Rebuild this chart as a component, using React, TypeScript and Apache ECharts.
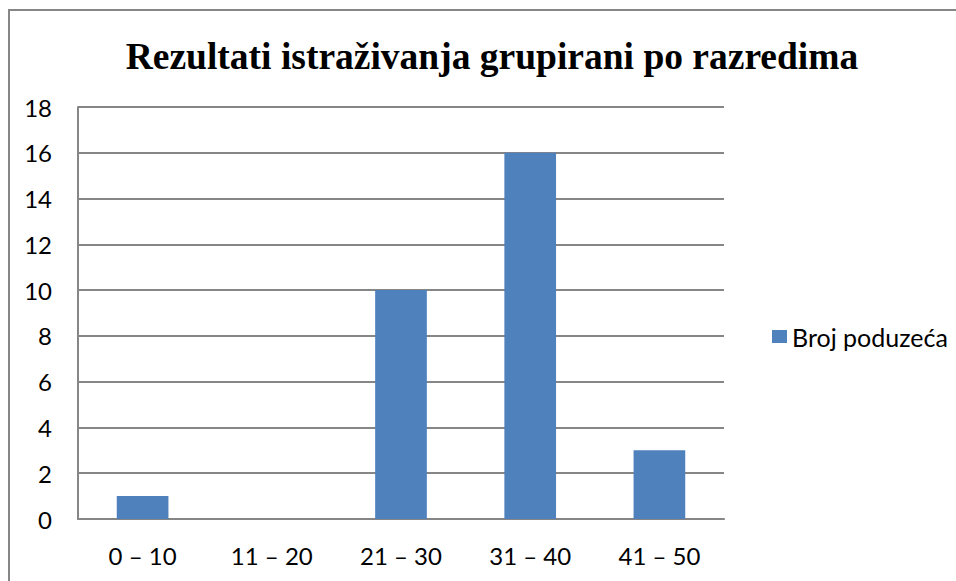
import React, { useEffect, useRef } from "react";
import * as echarts from "echarts";

const categories = ["0 – 10", "11 – 20", "21 – 30", "31 – 40", "41 – 50"];
const values = [1, 0, 10, 16, 3];
const seriesName = "Broj poduzeća";
const titleText = "Rezultati istraživanja grupirani po razredima";

export default function App() {
  const ref = useRef<HTMLDivElement>(null);
  useEffect(() => {
    if (!ref.current) return;
    const chart = echarts.init(ref.current, undefined, { renderer: "svg" });
    const labelFont = { fontFamily: "Lato", fontSize: 24, color: "#000000" };
    chart.setOption({
      animation: false,
      backgroundColor: "#ffffff",
      title: {
        text: titleText,
        left: 487,
        textAlign: "center",
        top: 32,
        textStyle: {
          fontFamily: "Liberation Serif",
          fontWeight: "bold",
          fontSize: 37.5,
          color: "#000000",
        },
      },
      graphic: [
        {
          type: "rect",
          shape: { x: 9, y: 10, width: 1000, height: 1000 },
          style: { fill: "none", stroke: "#868686", lineWidth: 2 },
          silent: true,
        },
      ],
      legend: {
        orient: "vertical",
        left: 767,
        top: 319,
        icon: "rect",
        itemWidth: 15,
        itemHeight: 13,
        itemGap: 6,
        textStyle: { ...labelFont, fontSize: 25 },
        data: [seriesName],
      },
      grid: { left: 78, right: 232, top: 107, bottom: 62, containLabel: false },
      xAxis: {
        type: "category",
        data: categories,
        axisLine: { show: true, lineStyle: { color: "#868686", width: 2 } },
        axisTick: { show: false },
        axisLabel: { margin: 24, ...labelFont },
      },
      yAxis: {
        type: "value",
        min: 0,
        max: 18,
        interval: 2,
        axisLine: { show: true, lineStyle: { color: "#868686", width: 2 } },
        axisTick: { show: false },
        splitLine: { show: true, lineStyle: { color: "#868686", width: 2 } },
        axisLabel: { margin: 26, ...labelFont },
      },
      series: [
        {
          name: seriesName,
          type: "bar",
          data: values,
          barWidth: "40%",
          itemStyle: { color: "#4F81BD" },
        },
      ],
    });
    return () => chart.dispose();
  }, []);
  return (
    <div
      ref={ref}
      style={{ position: "fixed", left: 0, top: 0, width: 956, height: 581 }}
    />
  );
}
